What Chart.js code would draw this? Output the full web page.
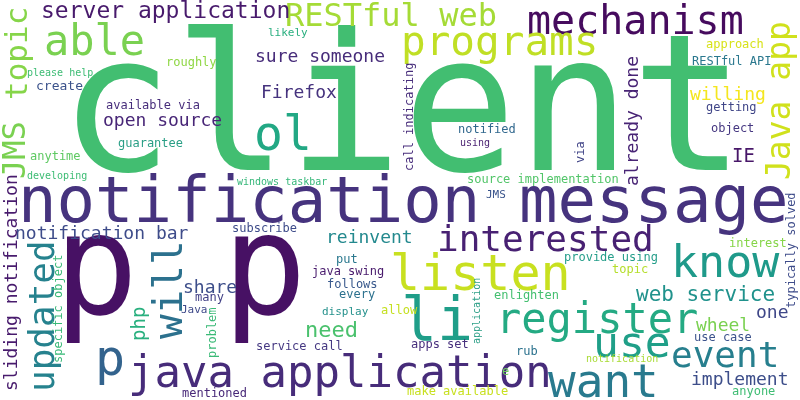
<!DOCTYPE html>
<html lang="en">
<head>
    <meta charset="UTF-8">
    <title>Word cloud</title>
    <script src="https://cdn.jsdelivr.net/npm/chart.js"></script>
    <style>
        body {
            margin: 0;
            background-color: #ffffff;
        }
        #box {
            width: 800px;
            height: 400px;
        }
    </style>
</head>
<body>
    <div id="box"><canvas id="cloud" width="800" height="400"></canvas></div>

    <script>
        // words of the cloud
        const words = ["client","notification message","p p","java application","mechanism","listen","li","register","use","want",
            "know","event","interested","programs","able","RESTful web","ol","Java app","topic","JMS",
            "updated","will","p","server application","sure someone","Firefox","open source","already done","willing","IE",
            "notification bar","sliding notification","reinvent","share","php","need","web service","one","wheel","implement",
            "please help","create","roughly","available via","guarantee","anytime","developing","windows taskbar","likely","call indicating",
            "notified","using","source implementation","JMS","approach","RESTful API","getting","object","via","specific object",
            "many","Java","problem","mentioned","subscribe","service call","put","java swing","follows","every",
            "display","allow","apps set","application","enlighten","rub","e","make available","provide using","interest",
            "typically solved","topic","use case","notification","anyone"];

        // weight of each word (font size in px)
        const weights = [190,64,140,44,40,50,60,42,43,46,
            45,36,36,41,42,32,48,33,31,32,
            36,41,50,23,18,18,18,18,18,19,
            18,18,18,18,19,22,21,18,18,18,
            10,13,12,12,12,12,10,10,11,12,
            12,10,12,11,12,12,12,12,12,12,
            12,11,12,12,12,12,12,12,12,12,
            11,12,12,10,12,12,12,12,12,12,
            12,12,12,10,12];

        // where each word sits (start of baseline, in cloud units 0..800 / 0..400)
        const wordX = [59,18,54,128,527,390,401,496,593,548,
            671,671,437,401,44,285,254,790,27,25,
            54,182,95,41,255,261,103,638,690,732,
            15,17,326,183,145,305,636,756,696,691,
            27,36,166,106,118,30,27,237,268,413,
            458,460,467,486,706,692,706,711,584,62,
            195,181,216,182,232,256,336,312,327,339,
            322,381,411,480,494,516,502,407,564,729,
            795,612,694,586,732];
        const wordY = [170,222,314,387,34,290,340,333,357,397,
            277,367,251,55,55,26,150,180,100,179,
            392,339,375,18,62,98,126,186,100,162,
            239,391,243,293,341,337,301,318,331,385,
            76,90,66,109,147,160,179,185,36,171,
            133,146,183,198,48,65,111,132,163,363,
            301,313,358,397,232,350,263,275,288,298,
            315,314,348,344,299,355,375,395,261,247,
            308,273,341,362,395];

        // 1 = written bottom to top
        const vertical = [0,0,0,0,0,0,0,0,0,0,
            0,0,0,0,0,0,0,1,1,1,
            1,1,0,0,0,0,0,1,0,0,
            0,1,0,0,1,0,0,0,0,0,
            0,0,0,0,0,0,0,0,0,1,
            0,0,0,0,0,0,0,0,1,1,
            0,0,1,0,0,0,0,0,0,0,
            0,0,0,1,0,0,0,0,0,0,
            1,0,0,0,0];

        // viridis colours
        const colors = ["#42be71","#46337e","#471164","#472c7a","#460b5e","#c8e020","#1f9e89","#24aa83","#1f9f88","#297a8e",
            "#1f9a8a","#277f8e","#482173","#c0df25","#7ad151","#a5db36","#22a884","#d0e11c","#86d549","#7ad151",
            "#26828e","#2c718e","#33638d","#481a6c","#472c7a","#46337e","#482677","#482475","#f4e61e","#481769",
            "#3e4c8a","#481b6d","#23898e","#3d4e8a","#2ab07f","#4ac16d","#20928c","#3f4788","#7ad151","#3d4e8a",
            "#3dbc74","#3b528b","#8fd744","#472d7b","#2a9f86","#5ec962","#3dbc74","#35b779","#29af7f","#472d7b",
            "#31688e","#481f70","#52c569","#3a548c","#d8e219","#2a788e","#404688","#453781","#414487","#38b977",
            "#424086","#3f4a8a","#3aba76","#482878","#3e4c8a","#453882","#2a788e","#481a6c","#38588c","#2c718e",
            "#25918c","#c5e021","#472f7d","#2c9f87","#44bf70","#2c728e","#6ccd5a","#c8e020","#259e8a","#86d549",
            "#3e4c8a","#b5de2b","#3b528b","#a8db34","#3fbc73"];

        // plugin that writes the words at the points of the dataset
        const wordPlugin = {
            id: "words",
            afterDatasetsDraw(chart) {
                const ctx = chart.ctx;
                const meta = chart.getDatasetMeta(0);
                ctx.save();
                ctx.textBaseline = "alphabetic";
                ctx.textAlign = "left";
                meta.data.forEach(function (pt, i) {
                    ctx.save();
                    ctx.font = weights[i] + "px 'DejaVu Sans Mono'";
                    ctx.fillStyle = colors[i];
                    ctx.translate(pt.x, pt.y);
                    if (vertical[i]) {
                        ctx.rotate(-Math.PI / 2);
                    }
                    ctx.fillText(words[i], 0, 0);
                    ctx.restore();
                });
                ctx.restore();
            }
        };

        const ctx = document.getElementById("cloud").getContext("2d");
        new Chart(ctx, {
            type: "scatter",
            data: {
                datasets: [{
                    data: words.map(function (w, i) { return { x: wordX[i], y: wordY[i] }; }),
                    pointRadius: 0,
                    pointHoverRadius: 0
                }]
            },
            options: {
                responsive: false,
                animation: false,
                layout: { padding: 0 },
                scales: {
                    x: { type: "linear", min: 0, max: 800, display: false },
                    y: { type: "linear", min: 0, max: 400, reverse: true, display: false }
                },
                plugins: {
                    legend: { display: false },
                    tooltip: { enabled: false }
                },
                events: []
            },
            plugins: [wordPlugin]
        });
    </script>
</body>
</html>
